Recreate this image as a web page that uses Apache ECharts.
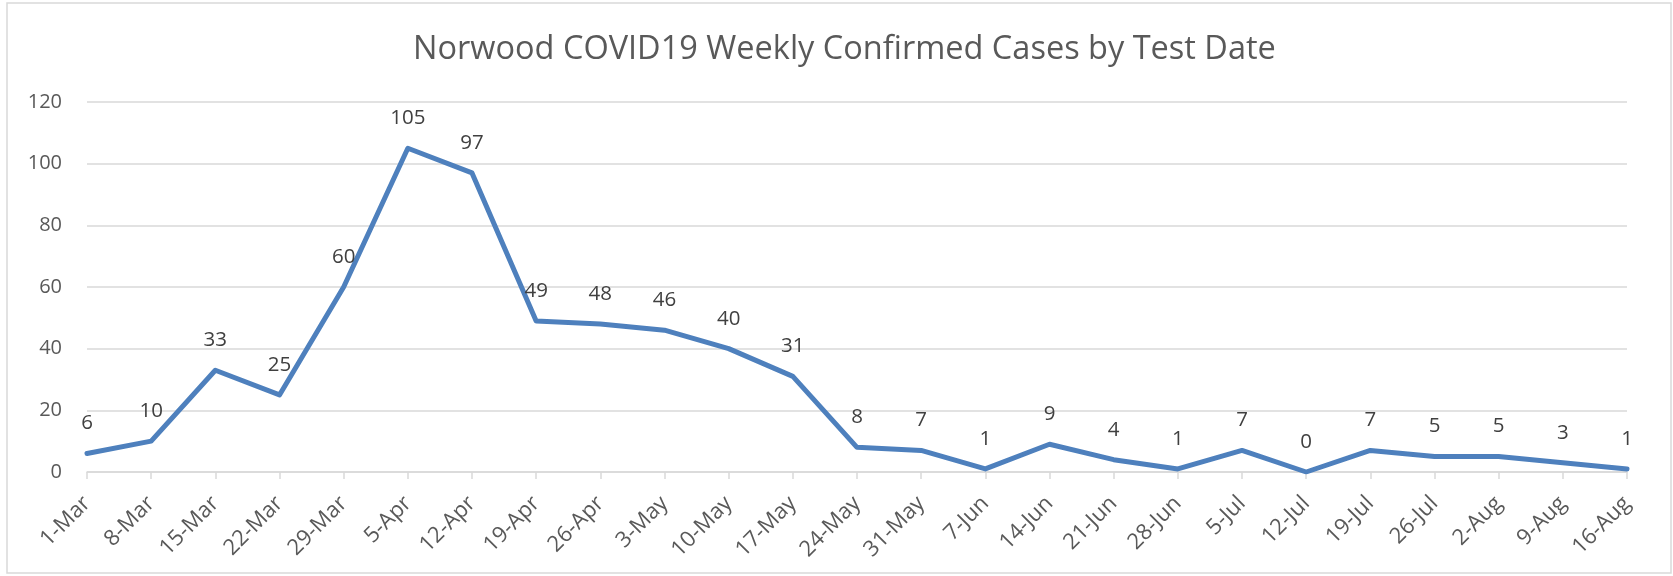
<!DOCTYPE html>
<html>
<head>
<meta charset="utf-8">
<title>Norwood COVID19</title>
<script src="https://cdn.jsdelivr.net/npm/echarts@6/dist/echarts.min.js"></script>
<style>
  html, body { margin: 0; padding: 0; background: #fff; }
  #chart { width: 1673px; height: 576px; }
</style>
</head>
<body>
<div id="chart"></div>
<script>
// weeks (test date)
const weeks = ['1-Mar', '8-Mar', '15-Mar', '22-Mar', '29-Mar', '5-Apr', '12-Apr', '19-Apr', '26-Apr',
  '3-May', '10-May', '17-May', '24-May', '31-May', '7-Jun', '14-Jun', '21-Jun', '28-Jun',
  '5-Jul', '12-Jul', '19-Jul', '26-Jul', '2-Aug', '9-Aug', '16-Aug'];
// weekly confirmed cases
const cases = [6, 10, 33, 25, 60, 105, 97, 49, 48, 46, 40, 31, 8, 7, 1, 9, 4, 1, 7, 0, 7, 5, 5, 3, 1];
const yTicks = { min: 0, max: 120, step: 20 };

const font = '"Open Sans", "Noto Sans", sans-serif';
const gray = '#d9d9d9';

const chart = echarts.init(document.getElementById('chart'));
chart.setOption({
  animation: false,
  title: {
    text: 'Norwood COVID19 Weekly Confirmed Cases by Test Date',
    left: 408,
    top: 28,
    textStyle: { fontFamily: font, fontSize: 32.5, fontWeight: 'normal', color: '#595959' }
  },
  graphic: [{
    type: 'rect',
    shape: { x: 7, y: 3, width: 1664, height: 570 },
    style: { fill: 'none', stroke: gray, lineWidth: 1.5 },
    silent: true
  }],
  grid: { left: 87, right: 46, top: 102, bottom: 104 },
  xAxis: {
    type: 'category',
    data: weeks,
    boundaryGap: false,
    axisLine: { lineStyle: { color: gray, width: 1.5 } },
    axisTick: { show: true, length: 7, lineStyle: { color: gray, width: 1.5 } },
    axisLabel: { rotate: 45, margin: 28, interval: 0, color: '#595959', fontFamily: font, fontSize: 22 }
  },
  yAxis: {
    type: 'value',
    min: yTicks.min,
    max: yTicks.max,
    interval: yTicks.step,
    axisLine: { show: false },
    axisTick: { show: false },
    splitLine: { lineStyle: { color: gray, width: 1.5 } },
    axisLabel: { margin: 25, color: '#595959', fontFamily: font, fontSize: 20 }
  },
  series: [{
    type: 'line',
    data: cases,
    symbol: 'circle',
    symbolSize: 1,
    showSymbol: true,
    itemStyle: { color: '#4e80bd' },
    lineStyle: { color: '#4e80bd', width: 5, cap: 'round', join: 'round' },
    label: {
      show: true,
      position: 'top',
      distance: 19,
      color: '#404040',
      fontFamily: font,
      fontSize: 20.5
    }
  }]
});
</script>
</body>
</html>
